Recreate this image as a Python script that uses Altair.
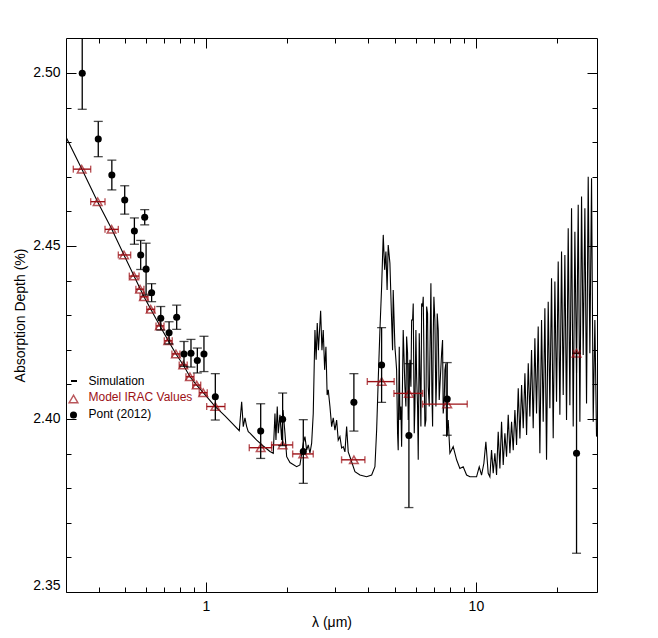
import altair as alt
import pandas as pd

# ---------------- data ----------------
sim_wl = [
    0.303, 0.3464, 0.3971, 0.4474, 0.4969, 0.5414, 0.5893, 0.6239, 0.6754, 0.7252,
    0.7743, 0.8241, 0.8724, 0.9238, 0.9772, 1.0825, 1.1761, 1.2486, 1.3284, 1.3559,
    1.3745, 1.3946, 1.4150, 1.4346, 1.4555, 1.5411, 1.6301, 1.7258, 1.7755, 1.8013,
    1.8168, 1.8370, 1.8527, 1.8798, 1.9075, 1.9287, 1.9619, 1.9906, 2.0474, 2.1676,
    2.2291, 2.2932, 2.3267, 2.3607, 2.3931, 2.4279, 2.4634, 2.4972, 2.5336, 2.5594,
    2.5836, 2.6104, 2.6597, 2.6893, 2.7192, 2.7520, 2.7826, 2.8116, 2.8381, 2.8795,
    2.9217, 2.9616, 3.0049, 3.0488, 3.0903, 3.1355, 3.1814, 3.2251, 3.2722, 3.3201,
    3.3651, 3.4145, 3.5640, 3.7195, 3.9377, 4.1094, 4.2266, 4.2884, 4.3471, 4.4106,
    4.4750, 4.5374, 4.5920, 4.6416, 4.6888, 4.7333, 4.8025, 4.8727, 4.9394, 5.0119,
    5.0852, 5.1548, 5.2302, 5.3067, 5.3793, 5.4581, 5.5379, 5.6149, 5.6970, 5.7803,
    5.8596, 5.9453, 6.0322, 6.1150, 6.2044, 6.2951, 6.3815, 6.4747, 6.5694, 6.6594,
    6.8129, 6.9125, 6.9894, 7.1109, 7.1899, 7.3136, 7.4649, 7.5673, 7.6778, 7.7900,
    7.8966, 8.0120, 8.2400, 8.4824, 8.7240, 8.9743, 9.2385, 9.5017,
    10.057, 10.289, 10.495, 10.706, 10.889, 11.108, 11.268, 11.429, 11.593, 11.759,
    11.928, 12.098, 12.272, 12.448, 12.626, 12.807, 12.991, 13.177, 13.366, 13.558,
    13.752, 13.949, 14.150, 14.352, 14.558, 14.767, 14.979, 15.193, 15.411, 15.632,
    15.849, 16.077, 16.307, 16.540, 16.777, 17.017, 17.261, 17.508, 17.759, 18.013,
    18.271, 18.533, 18.798, 19.067, 19.340, 19.617, 19.898, 20.183, 20.472, 20.765,
    21.063, 21.364, 21.670, 21.981, 22.295, 22.615, 22.939, 23.267, 23.600, 23.938,
    24.281, 24.629, 24.981, 25.339, 25.702, 26.070, 26.443, 26.822, 27.206, 27.595,
    27.990,
]
sim_depth = [
    2.4815, 2.4723, 2.4627, 2.4549, 2.4474, 2.4413, 2.4353, 2.4318, 2.4269, 2.4226,
    2.4188, 2.4156, 2.4122, 2.4098, 2.4076, 2.4036, 2.4009, 2.3988, 2.3966, 2.4050,
    2.3978, 2.4003, 2.3978, 2.3963, 2.3959, 2.3939, 2.3922, 2.3906, 2.3901, 2.4016,
    2.3939, 2.4036, 2.3959, 2.4012, 2.3939, 2.4026, 2.3959, 2.3891, 2.3874, 2.3862,
    2.3867, 2.3930, 2.3949, 2.3910, 2.3925, 2.3901, 2.3930, 2.4016, 2.4257, 2.4171,
    2.4277, 2.4199, 2.4313, 2.4199, 2.4257, 2.4142, 2.4209, 2.4069, 2.4084, 2.4036,
    2.3978, 2.4003, 2.3968, 2.3997, 2.3939, 2.3949, 2.3916, 2.3920, 2.3905, 2.3978,
    2.3905, 2.3891, 2.3848, 2.3838, 2.3833, 2.3838, 2.3862, 2.3968, 2.4113, 2.4257,
    2.4382, 2.4532, 2.4431, 2.4484, 2.4373, 2.4503, 2.4450, 2.4286, 2.4373, 2.4209,
    2.4142, 2.3910, 2.3997, 2.3920, 2.4257, 2.4093, 2.4238, 2.3997, 2.4171, 2.4286,
    2.4334, 2.4036, 2.4122, 2.3882, 2.4142, 2.4334, 2.4353, 2.3978, 2.4325, 2.4093,
    2.4392, 2.3978, 2.4353, 2.4036, 2.4305, 2.4055, 2.4190, 2.4016, 2.4142, 2.3949,
    2.3997, 2.3901, 2.3920, 2.3882, 2.3857, 2.3862, 2.3838, 2.3833,
    2.3833, 2.3862, 2.3838, 2.3872, 2.3934, 2.3843, 2.3833, 2.3910, 2.3843, 2.3901,
    2.3838, 2.3963, 2.3857, 2.3992, 2.3867, 2.3959, 2.3891, 2.4012, 2.3901, 2.3992,
    2.3910, 2.4026, 2.3925, 2.4089, 2.3944, 2.4098, 2.3973, 2.4132, 2.3954, 2.4161,
    2.4007, 2.4199, 2.3973, 2.4233, 2.4016, 2.4267, 2.3901, 2.4286, 2.3992, 2.4320,
    2.3882, 2.4339, 2.4031, 2.4407, 2.3944, 2.4397, 2.4050, 2.4455, 2.4012, 2.4484,
    2.4069, 2.4474, 2.3997, 2.4551, 2.4040, 2.4609, 2.3978, 2.4541, 2.4132, 2.4619,
    2.3992, 2.4643, 2.4185, 2.4609, 2.4045, 2.4700, 2.4190, 2.4696, 2.3992, 2.4286,
    2.3949,
]
# further spikes read in the 5-8 micron band
sim_wl_band = [4.913, 5.055, 5.127, 5.201, 5.275, 5.351, 5.505, 5.584, 5.745, 5.828,
               5.911, 5.995, 6.081, 6.168, 6.256, 6.346, 6.437, 6.529, 6.622, 6.717,
               6.871, 6.950, 7.049, 7.150, 7.253, 7.399, 7.526, 7.634, 7.743]
sim_depth_band = [2.4199, 2.4171, 2.3959, 2.4209, 2.4036, 2.4122, 2.4036, 2.4190, 2.4093, 2.4286,
                  2.3959, 2.4257, 2.4036, 2.4248, 2.3978, 2.4325, 2.4113, 2.3997, 2.4305, 2.4036,
                  2.4074, 2.4238, 2.4286, 2.4113, 2.4257, 2.4132, 2.4228, 2.4055, 2.4161]

pont_wl = [0.348, 0.399, 0.448, 0.500, 0.543, 0.573, 0.593, 0.600, 0.629, 0.680,
           0.730, 0.779, 0.829, 0.880, 0.929, 0.983, 1.083, 1.595, 1.923, 2.294,
           3.532, 4.474, 5.648, 7.83, 23.6]
pont_depth = [2.4999, 2.4809, 2.4705, 2.4633, 2.4543, 2.4474, 2.4583, 2.4433, 2.4365, 2.4291,
              2.4249, 2.4294, 2.4188, 2.4190, 2.4169, 2.4188, 2.4064, 2.3965, 2.3999, 2.3906,
              2.4048, 2.4156, 2.3952, 2.4058, 2.3901]
pont_err = [0.0104, 0.0051, 0.0043, 0.0041, 0.0038, 0.0042, 0.0022, 0.0075, 0.0026, 0.0034,
            0.0032, 0.0035, 0.0036, 0.0040, 0.0036, 0.0051, 0.0067, 0.0079, 0.0076, 0.0092,
            0.0083, 0.0108, 0.0208, 0.0105, 0.0289]

model_wl = [0.3464, 0.397, 0.447, 0.497, 0.541, 0.570, 0.589, 0.624, 0.675, 0.725,
            0.774, 0.824, 0.872, 0.924, 0.977, 1.083, 1.595, 1.923, 2.294, 3.532,
            4.474, 5.648, 7.83, 23.6]
model_depth = [2.4722, 2.4628, 2.4548, 2.4474, 2.4413, 2.4375, 2.4353, 2.4317, 2.4269, 2.4226,
               2.4188, 2.4156, 2.4122, 2.4098, 2.4076, 2.4036, 2.3917, 2.3925, 2.3899, 2.3882,
               2.4108, 2.4074, 2.4043, 2.4190]
model_lo = [0.3225, 0.374, 0.4226, 0.4735, 0.520, 0.550, 0.570, 0.603, 0.653, 0.701,
            0.748, 0.796, 0.843, 0.893, 0.944, 1.006, 1.447, 1.751, 2.095, 3.18,
            3.96, 4.97, 6.35, 23.0]
model_hi = [0.374, 0.4226, 0.4735, 0.526, 0.565, 0.589, 0.610, 0.6457, 0.699, 0.750,
            0.801, 0.852, 0.903, 0.956, 1.011, 1.176, 1.751, 2.095, 2.497, 3.88,
            4.98, 6.35, 9.29, 24.3]

x_major = [1, 10]
x_minor = [0.4, 0.5, 0.6, 0.7, 0.8, 0.9, 2, 3, 4, 5, 6, 7, 8, 9, 20]
y_major = [2.35, 2.40, 2.45, 2.50]
y_minor = [2.36, 2.37, 2.38, 2.39, 2.41, 2.42, 2.43, 2.44, 2.46, 2.47, 2.48, 2.49]

legend_labels = ["Simulation", "Model IRAC Values", "Pont (2012)"]

# ---------------- tables ----------------
sim_df = pd.DataFrame({"wl": sim_wl + sim_wl_band, "depth": sim_depth + sim_depth_band})
sim_df = sim_df.sort_values("wl").reset_index(drop=True)
pont_df = pd.DataFrame({"wl": pont_wl, "depth": pont_depth, "err": pont_err})
pont_df["lo"] = pont_df["depth"] - pont_df["err"]
pont_df["hi"] = pont_df["depth"] + pont_df["err"]
model_df = pd.DataFrame({"wl": model_wl, "depth": model_depth, "lo": model_lo, "hi": model_hi})
anchor = pd.DataFrame({"wl": [1.0], "depth": [2.40]})
one = pd.DataFrame({"a": [0]})

# ---------------- style ----------------
W, H = 531, 554
FONT = "Liberation Sans"
RED = "#9c1016"
xs = alt.Scale(type="log", domain=[0.303, 28.1], nice=False)
ys = alt.Scale(domain=[2.35, 2.5101], nice=False, zero=False)


def tick_axis(orient, offset, values, size):
    return alt.Axis(orient=orient, offset=offset, values=values, labels=False,
                    domain=False, ticks=True, tickSize=size, tickColor="black",
                    tickWidth=1, grid=False, title=None)


def axis_layer(xaxis, yaxis):
    return alt.Chart(anchor).mark_point(opacity=0).encode(
        x=alt.X("wl:Q", scale=xs, axis=xaxis),
        y=alt.Y("depth:Q", scale=ys, axis=yaxis),
    )


label_layer = axis_layer(
    alt.Axis(orient="bottom", values=x_major, format="d", ticks=False, domain=False,
             grid=False, labelFont=FONT, labelFontSize=14, labelColor="black",
             labelPadding=7, title="λ (μm)", titleFont=FONT, titleFontSize=14,
             titleFontWeight="normal", titleColor="black", titlePadding=2),
    alt.Axis(orient="left", values=y_major, format=".2f", ticks=False, domain=False,
             grid=False, labelFont=FONT, labelFontSize=14, labelColor="black",
             labelPadding=6, labelFlush=True, title="Absorption Depth (%)",
             titleFont=FONT, titleFontSize=14, titleFontWeight="normal",
             titleColor="black", titlePadding=5),
)

ticks1 = axis_layer(tick_axis("top", -H, x_major, 10), tick_axis("right", -W, y_major, 10))
ticks2 = axis_layer(tick_axis("top", -H, x_minor, 5), tick_axis("right", -W, y_minor, 5))
ticks3 = axis_layer(tick_axis("bottom", -H, x_major, 10), tick_axis("left", -W, y_major, 10))
ticks4 = axis_layer(tick_axis("bottom", -H, x_minor, 5), tick_axis("left", -W, y_minor, 5))

X = lambda f="wl": alt.X(f"{f}:Q", scale=xs, axis=None)
Y = lambda f="depth": alt.Y(f"{f}:Q", scale=ys, axis=None)

spectrum = alt.Chart(sim_df).mark_line(color="black", strokeWidth=1.1, clip=True).encode(
    x=X(), y=Y(), order="wl:Q")

model_bar = alt.Chart(model_df).mark_rule(color=RED, strokeWidth=1.4, clip=True).encode(
    x=X("lo"), x2="hi:Q", y=Y())
model_cap_lo = alt.Chart(model_df).mark_tick(color=RED, orient="vertical", size=7,
                                             thickness=1.4, clip=True).encode(x=X("lo"), y=Y())
model_cap_hi = alt.Chart(model_df).mark_tick(color=RED, orient="vertical", size=7,
                                             thickness=1.4, clip=True).encode(x=X("hi"), y=Y())
model_pts = alt.Chart(model_df).mark_point(shape="triangle-up", filled=False, color=RED,
                                           size=75, strokeWidth=1.5, clip=True).encode(x=X(), y=Y())

pont_bar = alt.Chart(pont_df).mark_rule(color="black", strokeWidth=1.3, clip=True).encode(
    x=X(), y=Y("lo"), y2="hi:Q")
pont_cap_lo = alt.Chart(pont_df).mark_tick(color="black", orient="horizontal", size=9,
                                           thickness=1.3, clip=True).encode(x=X(), y=Y("lo"))
pont_cap_hi = alt.Chart(pont_df).mark_tick(color="black", orient="horizontal", size=9,
                                           thickness=1.3, clip=True).encode(x=X(), y=Y("hi"))
pont_pts = alt.Chart(pont_df).mark_circle(color="black", size=50, opacity=1, clip=True).encode(
    x=X(), y=Y())

leg_y = [343, 359, 376]
leg_dash = alt.Chart(one).mark_rule(color="black", strokeWidth=2).encode(
    x=alt.value(5), x2=alt.value(11), y=alt.value(leg_y[0]))
leg_tri = alt.Chart(one).mark_point(shape="triangle-up", filled=False, color=RED, size=75,
                                    strokeWidth=1.5).encode(x=alt.value(7.5), y=alt.value(leg_y[1] + 2))
leg_dot = alt.Chart(one).mark_circle(color="black", size=50, opacity=1).encode(
    x=alt.value(7.5), y=alt.value(leg_y[2] + 1))
leg_txt = [
    alt.Chart(one).mark_text(align="left", baseline="middle", font=FONT, fontSize=12,
                             color=c).encode(x=alt.value(22.5), y=alt.value(yy), text=alt.value(t))
    for t, yy, c in zip(legend_labels, leg_y, ["black", RED, "black"])
]

chart = alt.layer(
    label_layer, ticks1, ticks2, ticks3, ticks4,
    spectrum,
    model_bar, model_cap_lo, model_cap_hi, model_pts,
    pont_bar, pont_cap_lo, pont_cap_hi, pont_pts,
    leg_dash, leg_tri, leg_dot, *leg_txt,
).resolve_scale(x="independent", y="independent").properties(
    width=W, height=H,
    autosize=alt.AutoSizeParams(type="none"),
    padding={"left": 58, "top": 30, "right": 50, "bottom": 40},
    background="white",
).configure_view(stroke="black", strokeWidth=1)

chart.save("out.html", embed_options={"renderer": "svg", "actions": False})
